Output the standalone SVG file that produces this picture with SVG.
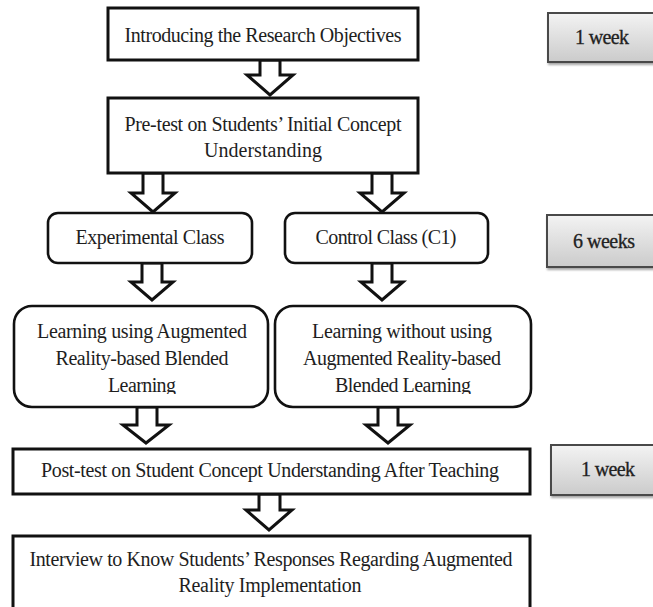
<svg xmlns="http://www.w3.org/2000/svg" width="653" height="607" viewBox="0 0 653 607">
<style>
  .box { fill: #ffffff; stroke: #111111; stroke-width: 3; }
  .rbox { fill: #ffffff; stroke: #111111; stroke-width: 2.6; }
  .gbox { fill: url(#grayGrad); stroke: #4a4a4a; stroke-width: 2; filter: url(#shadow); }
  .arrow { fill: #ffffff; stroke: #111111; stroke-width: 3; stroke-linejoin: miter; }
  text { font-family: "Liberation Serif", "Times New Roman", serif; font-size: 20px; fill: #1e1e1e; text-anchor: middle; }
  .gt { font-size: 20px; fill: #222222; stroke: #222222; stroke-width: 0.3; }
</style>
<defs>
  <linearGradient id="grayGrad" x1="0" y1="0" x2="0" y2="1">
    <stop offset="0" stop-color="#f3f3f3"/>
    <stop offset="1" stop-color="#cbcbcb"/>
  </linearGradient>
  <filter id="shadow" x="-10%" y="-10%" width="130%" height="140%">
    <feDropShadow dx="1" dy="2" stdDeviation="1.2" flood-color="#000000" flood-opacity="0.35"/>
  </filter>
  <clipPath id="clipLearn">
    <rect x="0" y="300" width="560" height="94"/>
  </clipPath>
</defs>

<g id="connectors">
  <path class="arrow" d="M260,60 L280,60 L280,75 L293,75 L270,95 L247,75 L260,75 Z"/>
  <path class="arrow" d="M143,173 L163,173 L163,193 L175,193 L153,212 L131,193 L143,193 Z"/>
  <path class="arrow" d="M372,173 L392,173 L392,193 L404,193 L382,212 L360,193 L372,193 Z"/>
  <path class="arrow" d="M142,263 L162,263 L162,282 L173,282 L152,300 L131,282 L142,282 Z"/>
  <path class="arrow" d="M372,263 L392,263 L392,282 L403,282 L382,300 L361,282 L372,282 Z"/>
  <path class="arrow" d="M137,407 L157,407 L157,425 L169,425 L146,443 L123,425 L137,425 Z"/>
  <path class="arrow" d="M378,407 L398,407 L398,425 L410,425 L388,443 L366,425 L378,425 Z"/>
  <path class="arrow" d="M259,494 L280,494 L280,510 L292,510 L269,530 L246,510 L259,510 Z"/>
</g>

<g id="n1">
  <rect class="box" x="108" y="8" width="310" height="52"/>
  <text x="263" y="42" textLength="277">Introducing the Research Objectives</text>
</g>

<g id="n2">
  <rect class="box" x="108" y="98" width="310" height="75"/>
  <text x="263" y="131" textLength="277">Pre-test on Students’ Initial Concept</text>
  <text x="263" y="157" textLength="118">Understanding</text>
</g>

<g id="n3">
  <rect class="rbox" x="48" y="213" width="204" height="50" rx="10" ry="10"/>
  <text x="150" y="244" textLength="149">Experimental Class</text>
</g>

<g id="n4">
  <rect class="rbox" x="285" y="213" width="203" height="50" rx="10" ry="10"/>
  <text x="386" y="244" textLength="141">Control Class (C1)</text>
</g>

<g id="n5">
  <rect class="rbox" x="14" y="306" width="254" height="101" rx="18" ry="18"/>
  <g clip-path="url(#clipLearn)">
    <text x="142" y="338" textLength="210">Learning using Augmented</text>
    <text x="142" y="365" textLength="173">Reality-based Blended</text>
    <text x="142" y="392" textLength="68">Learning</text>
  </g>
</g>

<g id="n6">
  <rect class="rbox" x="275" y="306" width="256" height="101" rx="18" ry="18"/>
  <g clip-path="url(#clipLearn)">
    <text x="402" y="338" textLength="180">Learning without using</text>
    <text x="402" y="365" textLength="198">Augmented Reality-based</text>
    <text x="403" y="392" textLength="136">Blended Learning</text>
  </g>
</g>

<g id="n7">
  <rect class="box" x="13" y="449" width="517" height="45"/>
  <text x="270" y="477" textLength="458">Post-test on Student Concept Understanding After Teaching</text>
</g>

<g id="n8">
  <rect class="box" x="13" y="536" width="517" height="90"/>
  <text x="271" y="566" textLength="483">Interview to Know Students’ Responses Regarding Augmented</text>
  <text x="270" y="592" textLength="183">Reality Implementation</text>
</g>

<g id="t1">
  <rect class="gbox" x="548" y="13" width="115" height="49"/>
  <text class="gt" x="602" y="44" textLength="54">1 week</text>
</g>

<g id="t2">
  <rect class="gbox" x="547" y="215" width="115" height="52"/>
  <text class="gt" x="604" y="248" textLength="62">6 weeks</text>
</g>

<g id="t3">
  <rect class="gbox" x="551" y="445" width="112" height="50"/>
  <text class="gt" x="608" y="476" textLength="54">1 week</text>
</g>
</svg>
